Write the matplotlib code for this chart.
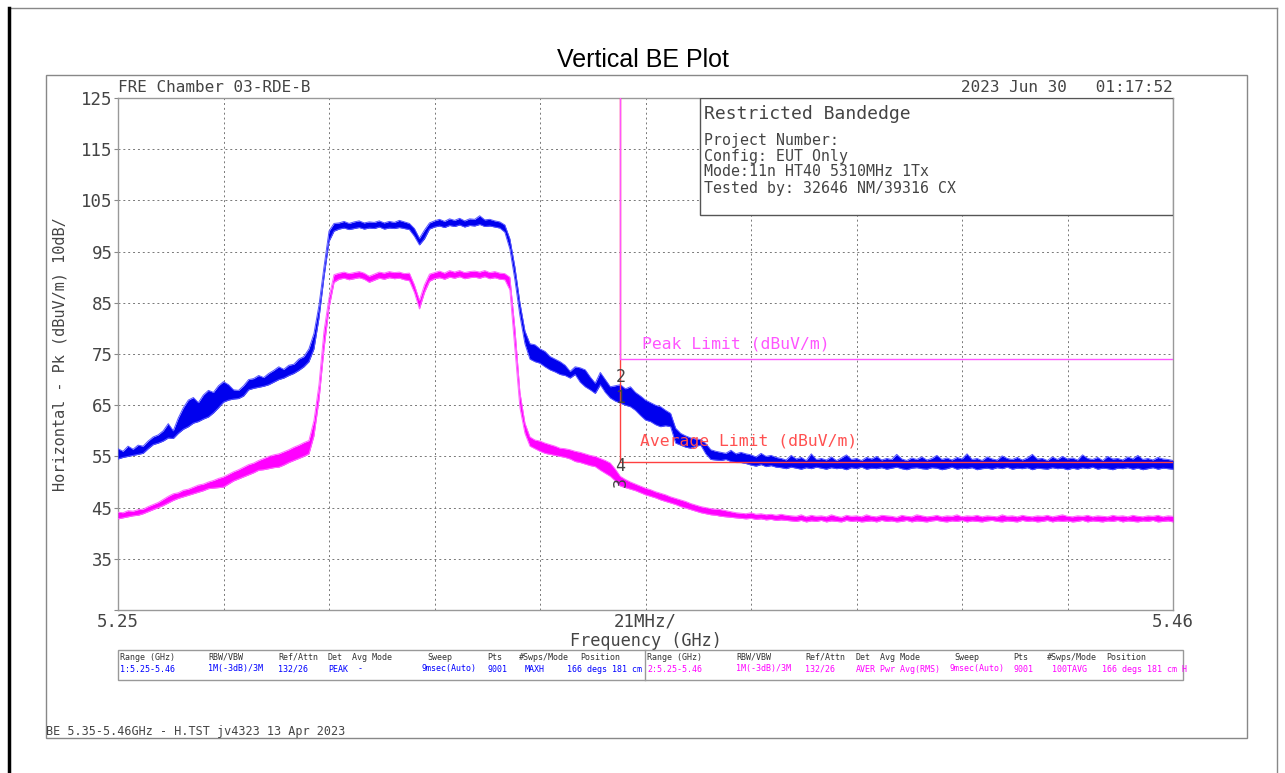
import numpy as np
import matplotlib.pyplot as plt
from matplotlib.patches import Rectangle
from matplotlib.lines import Line2D

# frequency axis, 1 MHz per sample (GHz)
freq = np.linspace(5.25, 5.46, 211)

# peak trace (MaxHold) lower / upper envelope, dBuV/m
pk_lo = [54.5, 54.8, 55.0, 55.2, 55.4, 55.6, 56.5, 57.3, 57.6, 58.0,
         58.6, 58.5, 59.5, 60.3, 60.8, 61.5, 61.8, 62.3, 62.7, 63.5,
         64.5, 65.6, 66.0, 66.2, 66.3, 66.8, 68.0, 68.3, 68.5, 68.7,
         69.0, 69.5, 70.0, 70.3, 70.8, 71.2, 71.8, 72.5, 73.5, 76.0,
         82.0, 90.0, 97.0, 99.0, 99.4, 99.6, 99.3, 99.5, 99.7, 99.4,
         99.6, 99.5, 99.8, 99.4, 99.6, 99.5, 99.7, 99.5, 99.3, 98.0,
         96.3, 97.5, 99.4, 99.8, 100.0, 99.7, 100.1, 99.9, 100.2, 99.8,
         100.1, 100.0, 100.3, 99.9, 100.0, 99.8, 99.6, 98.8, 95.5, 89.5,
         82.5, 77.0, 74.0, 73.5, 73.2, 72.5, 71.9, 71.5, 71.0, 70.8,
         70.3, 71.0, 69.5, 68.6, 68.0, 67.3, 69.0, 67.5, 66.4, 65.8,
         65.4, 65.0, 64.7, 64.0, 63.0, 62.1, 61.8, 61.2, 60.8, 61.0,
         60.8, 57.6, 57.2, 56.8, 56.6, 57.0, 57.2, 55.5, 54.4, 54.3,
         54.2, 54.4, 54.0, 53.8, 53.8, 53.6, 53.3, 53.1, 53.4, 53.0,
         53.2, 52.9, 52.8, 52.6, 52.9, 52.7, 52.5, 52.8, 52.6, 52.9,
         52.7, 52.5, 52.8, 52.6, 52.7, 52.4, 52.8, 52.6, 52.9, 52.5,
         52.7, 52.6, 52.8, 52.5, 52.7, 52.9, 52.6, 52.4, 52.7, 52.8,
         52.6, 52.5, 52.8, 52.7, 52.4, 52.6, 52.9, 52.5, 52.7, 52.6,
         52.8, 52.4, 52.6, 52.7, 52.5, 52.8, 52.6, 52.9, 52.5, 52.7,
         52.6, 52.8, 52.4, 52.7, 52.6, 52.5, 52.8, 52.6, 52.7, 52.4,
         52.7, 52.5, 52.8, 52.6, 52.9, 52.5, 52.7, 52.6, 52.4, 52.7,
         52.6, 52.8, 52.5, 52.7, 52.4, 52.6, 52.8, 52.5, 52.7, 52.6, 52.5]
pk_hi = [56.5, 56.0, 57.0, 56.4, 57.2, 57.0, 58.0, 58.8, 59.2, 60.0,
         61.4, 60.0, 62.5, 64.5, 66.0, 66.5, 65.5, 67.0, 67.9, 67.5,
         68.8, 69.6, 69.0, 68.0, 67.9, 68.8, 70.0, 70.2, 70.8, 70.4,
         71.2, 71.8, 72.5, 72.0, 72.8, 73.0, 74.0, 74.5, 76.0, 79.0,
         84.5, 92.0, 99.0, 100.5, 100.6, 100.9, 100.5, 100.8, 101.0, 100.6,
         100.8, 100.7, 101.0, 100.6, 100.9, 100.7, 101.1, 100.8, 100.5, 99.5,
         97.6, 99.2, 100.6, 101.0, 101.3, 100.9, 101.4, 101.1, 101.5, 101.0,
         101.4, 101.3, 102.0, 101.2, 101.3, 101.0, 100.8, 100.2, 97.5, 92.0,
         85.0, 79.5, 77.0, 76.8, 76.0, 75.5, 74.5, 74.0, 73.5, 72.8,
         71.6, 72.5, 72.3, 71.9, 70.5, 69.3, 71.4, 70.0, 68.6, 68.8,
         69.0, 68.2, 68.6, 67.5, 66.8, 66.0, 65.5, 65.0, 64.7, 64.0,
         63.4, 60.5, 59.5, 59.0, 58.6, 58.4, 58.3, 57.5, 56.3, 56.0,
         55.8, 55.6, 56.2, 55.5, 55.8, 55.5, 55.3, 54.9, 55.6, 55.0,
         55.2, 54.8, 54.6, 54.3, 55.2, 54.5, 54.8, 54.2, 55.5, 54.4,
         54.6, 54.3, 54.9, 54.2, 54.7, 55.3, 54.4, 54.6, 54.2, 54.8,
         54.5, 55.0, 54.3, 54.6, 54.4, 55.4, 54.5, 54.2, 54.7, 54.4,
         54.9, 54.3, 54.6, 55.2, 54.4, 54.7, 54.3, 54.8, 54.5, 55.5,
         54.4, 54.6, 54.2, 54.9, 54.5, 54.3, 55.1, 54.6, 54.4, 54.8,
         54.3, 54.7, 55.4, 54.5, 54.6, 54.2, 54.9, 54.4, 55.0, 54.5,
         54.7, 54.3, 55.3, 54.6, 54.4, 54.8, 54.2, 55.0, 54.5, 54.6,
         54.3, 54.9, 54.5, 55.2, 54.4, 54.6, 54.3, 54.8, 54.5, 54.4, 54.2]

# average trace (RMS) lower / upper envelope, dBuV/m
av_lo = [42.8, 43.0, 43.2, 43.4, 43.5, 43.8, 44.2, 44.6, 45.0, 45.4,
         45.9, 46.4, 46.8, 47.1, 47.4, 47.7, 48.0, 48.3, 48.7, 48.8,
         48.9, 49.0, 49.6, 50.2, 50.6, 51.0, 51.4, 51.8, 52.3, 52.4,
         52.6, 52.8, 52.9, 53.3, 53.8, 54.2, 54.6, 55.0, 55.5, 59.0,
         66.0, 76.0, 84.0, 89.0, 89.6, 89.8, 89.5, 89.7, 89.9, 89.6,
         89.0, 89.4, 89.8, 89.6, 89.9, 89.7, 89.8, 89.5, 89.3, 87.0,
         83.8, 87.0, 89.2, 89.7, 89.9, 89.6, 90.0, 89.8, 90.1, 89.7,
         89.9, 90.0, 89.8, 90.1, 89.7, 89.9, 89.6, 89.5, 87.5, 76.0,
         64.5, 59.5, 57.0, 56.5, 56.0, 55.6, 55.4, 55.2, 55.0, 54.8,
         54.5, 54.0, 53.8, 53.5, 53.2, 53.0, 52.3, 51.7, 51.1, 50.2,
         49.2, 48.9, 48.6, 48.3, 47.9, 47.5, 47.2, 46.9, 46.5, 46.2,
         45.9, 45.6, 45.2, 44.9, 44.6, 44.3, 44.0, 43.8, 43.6, 43.5,
         43.3, 43.2, 43.1, 43.0, 42.9, 42.8, 42.9, 42.7, 42.8, 42.6,
         42.7, 42.5, 42.6, 42.5, 42.4, 42.3, 42.5, 42.2, 42.4, 42.3,
         42.5, 42.2, 42.4, 42.3, 42.2, 42.5, 42.3, 42.4, 42.2, 42.3,
         42.4, 42.2, 42.5, 42.3, 42.4, 42.2, 42.3, 42.5, 42.2, 42.4,
         42.3, 42.2, 42.4, 42.5, 42.3, 42.2, 42.4, 42.3, 42.5, 42.2,
         42.4, 42.3, 42.2, 42.4, 42.5, 42.3, 42.2, 42.4, 42.3, 42.2,
         42.5, 42.3, 42.4, 42.2, 42.3, 42.5, 42.2, 42.4, 42.3, 42.4,
         42.2, 42.3, 42.5, 42.2, 42.4, 42.3, 42.2, 42.4, 42.3, 42.5,
         42.2, 42.4, 42.3, 42.2, 42.4, 42.3, 42.5, 42.2, 42.3, 42.4, 42.2]
av_hi = [44.1, 44.0, 44.4, 44.3, 44.6, 44.7, 45.2, 45.6, 46.0, 46.6,
         47.2, 47.7, 47.9, 48.4, 48.6, 49.0, 49.4, 49.6, 50.0, 50.3,
         50.7, 51.0, 51.5, 52.0, 52.4, 52.9, 53.4, 53.7, 54.2, 54.6,
         55.0, 55.3, 55.5, 55.9, 56.3, 56.8, 57.2, 57.7, 58.1, 62.0,
         69.0, 79.5, 86.0, 90.5, 90.8, 91.0, 90.7, 90.9, 91.1, 90.8,
         90.2, 90.6, 91.0, 90.8, 91.1, 90.9, 91.0, 90.7, 90.8, 88.5,
         85.5, 88.5, 90.6, 90.9, 91.2, 90.8, 91.3, 91.0, 91.3, 90.9,
         91.1, 91.2, 91.0, 91.3, 90.9, 91.1, 90.8, 90.7, 90.0, 80.0,
         67.5, 61.5, 58.8, 58.2, 58.0, 57.6, 57.3, 57.0, 56.6, 56.5,
         56.3, 56.0, 55.8, 55.5, 55.2, 55.0, 54.6, 54.2, 53.7, 52.5,
         51.1, 50.5, 50.0, 49.6, 49.2, 48.8, 48.5, 48.1, 47.8, 47.5,
         47.1, 46.8, 46.5, 46.2, 45.8, 45.5, 45.2, 45.0, 44.8, 44.7,
         44.6, 44.4, 44.2, 44.0, 43.9, 43.8, 44.0, 43.7, 43.8, 43.6,
         43.7, 43.5, 43.7, 43.5, 43.4, 43.3, 43.6, 43.2, 43.5, 43.3,
         43.4, 43.2, 43.6, 43.3, 43.1, 43.5, 43.3, 43.4, 43.2, 43.6,
         43.3, 43.2, 43.5, 43.4, 43.3, 43.1, 43.5, 43.3, 43.2, 43.6,
         43.4, 43.2, 43.3, 43.5, 43.2, 43.4, 43.3, 43.6, 43.2, 43.4,
         43.3, 43.5, 43.2, 43.4, 43.3, 43.2, 43.6, 43.3, 43.4, 43.2,
         43.5, 43.3, 43.2, 43.4, 43.3, 43.5, 43.2, 43.4, 43.6, 43.3,
         43.2, 43.4, 43.3, 43.5, 43.2, 43.4, 43.3, 43.2, 43.5, 43.3,
         43.4, 43.2, 43.5, 43.3, 43.2, 43.4, 43.3, 43.5, 43.2, 43.4, 43.3]

# limits
band_edge = 5.35
peak_limit = 74
avg_limit = 54

y_ticks = [25, 35, 45, 55, 65, 75, 85, 95, 105, 115, 125]
y_labels = ['', '35', '45', '55', '65', '75', '85', '95', '105', '115', '125']
x_ticks = np.linspace(5.25, 5.46, 11)
x_labels = ['5.25', '', '', '', '', '21MHz/', '', '', '', '', '5.46']

W, H = 1285, 773
MONO = 'DejaVu Sans Mono'
TXT = '#444444'


def fx(x):
    return x / W


def fy(y):
    return 1 - y / H


fig = plt.figure(figsize=(W / 100, H / 100), dpi=100)
ax = fig.add_axes([fx(118), fy(610), (1173 - 118) / W, (610 - 98) / H])

# traces
ax.fill_between(freq, av_lo, av_hi, color='#ff00ff', lw=0, zorder=3)
ax.plot(freq, av_lo, color='#ff66ff', lw=0.7, zorder=3)
ax.plot(freq, av_hi, color='#ff66ff', lw=0.7, zorder=3)
ax.fill_between(freq, pk_lo, pk_hi, color='#0000ee', lw=0, zorder=4)
ax.plot(freq, pk_lo, color='#5555ff', lw=0.7, zorder=4)
ax.plot(freq, pk_hi, color='#5555ff', lw=0.7, zorder=4)

# limit lines
ax.plot([band_edge, band_edge, 5.46], [125, avg_limit, avg_limit], color='#ff4040', lw=1, zorder=5)
ax.plot([band_edge, band_edge, 5.46], [125, peak_limit, peak_limit], color='#ff55ff', lw=1, zorder=5)
ax.text(5.3543, 77, 'Peak Limit (dBuV/m)', color='#ff55ff', fontsize=11.8, family=MONO,
        va='center', zorder=6)
ax.text(5.3539, 58, 'Average Limit (dBuV/m)', color='#ff5050', fontsize=11.8, family=MONO,
        va='center', zorder=6)

# marker numbers
ax.text(band_edge, 70.6, '2', color='#444444', fontsize=12, family=MONO, ha='center', va='center', zorder=7)
ax.text(band_edge, 66.4, '1', color='#444444', fontsize=12, family=MONO, ha='center', va='center', zorder=7)
ax.text(band_edge, 53.2, '4', color='#444444', fontsize=12, family=MONO, ha='center', va='center', zorder=7)
ax.text(band_edge, 50.0, '3', color='#444444', fontsize=12, family=MONO, ha='center', va='center',
        rotation=90, zorder=7)

ax.set_xlim(5.25, 5.46)
ax.set_ylim(25, 125)
ax.set_yticks(y_ticks)
ax.set_yticklabels(y_labels, family=MONO, fontsize=12.5, color=TXT)
ax.set_xticks(x_ticks)
ax.set_xticklabels(x_labels, family=MONO, fontsize=12.5, color=TXT)
ax.tick_params(axis='y', length=3, color='#888888', pad=1)
ax.tick_params(axis='x', length=0, pad=2)
ax.grid(True, color='#777777', linestyle=(0, (2, 3)), lw=0.7)
for s in ax.spines.values():
    s.set_color('#999999')
    s.set_linewidth(1)

ax.set_xlabel('Frequency (GHz)', family=MONO, fontsize=12.2, color=TXT, labelpad=1)
ax.set_ylabel('Horizontal - Pk (dBuV/m) 10dB/', family=MONO, fontsize=11, color=TXT, labelpad=10)

# info box
ax.add_patch(Rectangle(((700 - 118) / 1055, (610 - 215) / 512), (1173 - 700) / 1055, (215 - 98) / 512,
                       transform=ax.transAxes, facecolor='white', edgecolor='#555555', lw=1, zorder=8))
fig.text(fx(704), fy(114), 'Restricted Bandedge', family=MONO, fontsize=13, color=TXT, va='center', zorder=9)
info = ['Project Number:', 'Config: EUT Only', 'Mode:11n HT40 5310MHz 1Tx', 'Tested by: 32646 NM/39316 CX']
for i, line in enumerate(info):
    fig.text(fx(704), fy(140 + 16 * i), line, family=MONO, fontsize=10.7, color=TXT, va='center', zorder=9)

# header / footer
fig.text(0.5, fy(60), 'Vertical BE Plot', family='Liberation Sans', fontsize=18, ha='center', va='center')
fig.text(fx(118), fy(88), 'FRE Chamber 03-RDE-B', family=MONO, fontsize=11.5, color=TXT, va='center')
fig.text(fx(1173), fy(88), '2023 Jun 30   01:17:52', family=MONO, fontsize=11.5, color=TXT,
         va='center', ha='right')
fig.text(fx(46), fy(731), 'BE 5.35-5.46GHz - H.TST jv4323 13 Apr 2023', family=MONO, fontsize=8.5,
         color=TXT, va='center')

# settings table
fig.add_artist(Rectangle((fx(118), fy(680)), (1183 - 118) / W, 30 / H, transform=fig.transFigure,
                         facecolor='none', edgecolor='#999999', lw=1))
fig.add_artist(Line2D([fx(645), fx(645)], [fy(650), fy(680)], color='#999999', lw=1))
heads1 = [(120, 'Range (GHz)'), (208, 'RBW/VBW'), (278, 'Ref/Attn'), (328, 'Det'), (352, 'Avg Mode'),
          (427, 'Sweep'), (487, 'Pts'), (519, '#Swps/Mode'), (580, 'Position')]
vals1 = [(120, '1:5.25-5.46'), (208, '1M(-3dB)/3M'), (278, '132/26'), (328, 'PEAK'), (358, '-'),
         (422, '9msec(Auto)'), (487, '9001'), (525, 'MAXH'), (567, '166 degs 181 cm')]
heads2 = [(647, 'Range (GHz)'), (736, 'RBW/VBW'), (805, 'Ref/Attn'), (856, 'Det'), (880, 'Avg Mode'),
          (954, 'Sweep'), (1013, 'Pts'), (1047, '#Swps/Mode'), (1106, 'Position')]
vals2 = [(647, '2:5.25-5.46'), (736, '1M(-3dB)/3M'), (805, '132/26'), (856, 'AVER'), (880, 'Pwr Avg(RMS)'),
         (949, '9msec(Auto)'), (1013, '9001'), (1052, '100TAVG'), (1102, '166 degs 181 cm H')]
for x, t in heads1 + heads2:
    fig.text(fx(x), fy(657), t, family=MONO, fontsize=6, color='#333333', va='center')
for x, t in vals1:
    fig.text(fx(x), fy(669), t, family=MONO, fontsize=6, color='#0000ff', va='center')
for x, t in vals2:
    fig.text(fx(x), fy(669), t, family=MONO, fontsize=6, color='#ff00ff', va='center')

# page frames
fig.add_artist(Rectangle((fx(46), fy(738)), (1247 - 46) / W, (738 - 75) / H, transform=fig.transFigure,
                         facecolor='none', edgecolor='#888888', lw=1))
fig.add_artist(Line2D([fx(10), fx(1277)], [fy(8), fy(8)], color='#888888', lw=1))
fig.add_artist(Line2D([fx(1277), fx(1277)], [fy(8), 0], color='#888888', lw=1))
fig.add_artist(Line2D([fx(9), fx(9)], [fy(8), 0], color='black', lw=2.5))

fig.savefig('out.png', dpi=100)
